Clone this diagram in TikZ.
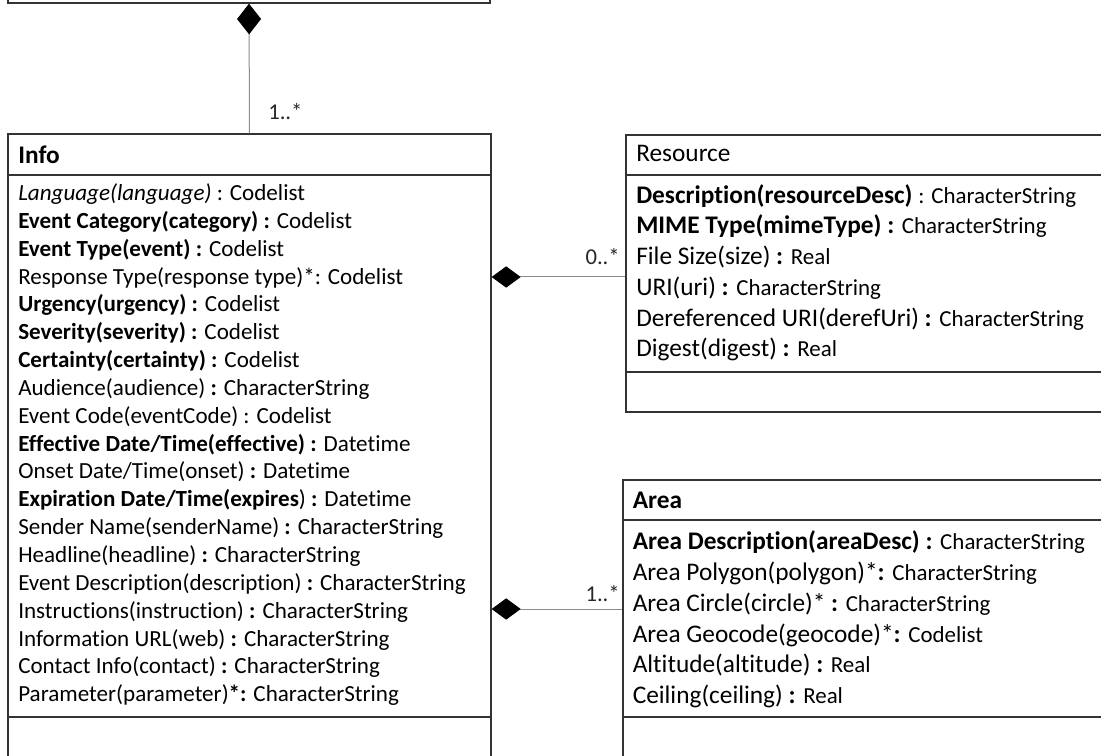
\documentclass[tikz,border=0pt]{standalone}
\usepackage{fontspec}
\setmainfont{Carlito}[Ligatures=NoCommon]
\usetikzlibrary{fit,arrows.meta}
\newcommand\Bf[1]{\textbf{#1}}
\newcommand\Sm[1]{{\fontsize{17.2}{20}\selectfont #1}}
\newcommand\infofont{\fontsize{17.3}{20}\selectfont}
\newcommand\bigfont{\fontsize{19}{23}\selectfont}
\tikzset{
  box/.style={draw=black!80, line width=1pt, inner sep=0pt},
  sep/.style={draw=black!80, line width=1pt},
  conn/.style={draw=black!45, line width=0.75pt},
  compv/.style={{Diamond[length=23pt,width=18pt,color=black,fill=black]}-},
  comph/.style={{Diamond[length=21.75pt,width=16pt,color=black,fill=black]}-},
  attr/.style={anchor=base west, inner sep=0pt, font=\infofont, text=black},
  attrb/.style={anchor=base west, inner sep=0pt, font=\bigfont, text=black},
  mult/.style={inner sep=0pt, font=\fontsize{17}{20}\selectfont, text=black!85},
}
\begin{document}
\begin{tikzpicture}[x=0.75pt,y=-0.75pt]
\useasboundingbox (0,0) rectangle (1101,756);
\clip (0,0) rectangle (1101,756);
% boxes
\node[box, fit={(8,-30) (490,3)}] (alert) {};
\node[box, fit={(8,134) (491,800)}] (info) {};
\node[box, fit={(626,135) (1130,412)}] (res) {};
\node[box, fit={(623,480) (1130,800)}] (area) {};
% compartment separators
\draw[sep] (info.west |- 0,175) -- (info.east |- 0,175);
\draw[sep] (info.west |- 0,717) -- (info.east |- 0,717);
\draw[sep] (res.west |- 0,175) -- (res.east |- 0,175);
\draw[sep] (res.west |- 0,372) -- (res.east |- 0,372);
\draw[sep] (area.west |- 0,520) -- (area.east |- 0,520);
\draw[sep] (area.west |- 0,717) -- (area.east |- 0,717);
% connectors
\draw[conn, compv] (alert.south) -- (info.north);
\coordinate (rc) at (626,277);
\draw[conn, comph] (info.east |- rc) -- (res.west |- rc);
\coordinate (ac) at (623,609);
\draw[conn, comph] (info.east |- ac) -- (area.west |- ac);
\node[mult, anchor=base west] (m1) at (268,120) {1..*};
\node[mult, anchor=base east] (m2) at (620,265) {0..*};
\node[mult, anchor=base east] (m3) at (620,601.7) {1..*};
% Info
\node[attr, font=\fontsize{19}{22}\selectfont] (it) at (18,163.3) {\Bf{Info}};
\node[attr] (i1) at (18,200.5) {\textit{Language(language)} : Codelist};
\node[attr] (i2) at (18,228.35) {\Bf{Event Category(category) :} Codelist};
\node[attr] (i3) at (18,256.2) {\Bf{Event Type(event) :} Codelist};
\node[attr] (i4) at (18,284.05) {Response Type(response type)*: Codelist};
\node[attr] (i5) at (18,311.9) {\Bf{Urgency(urgency) :} Codelist};
\node[attr] (i6) at (18,339.75) {\Bf{Severity(severity) :} Codelist};
\node[attr] (i7) at (18,367.6) {\Bf{Certainty(certainty) :} Codelist};
\node[attr] (i8) at (18,395.45) {Audience(audience) \Bf{:} CharacterString};
\node[attr] (i9) at (18,423.3) {Event Code(eventCode) : Codelist};
\node[attr] (i10) at (18,451.15) {\Bf{Effective Date/Time(effective) :} Datetime};
\node[attr] (i11) at (18,479.0) {Onset Date/Time(onset) \Bf{:} Datetime};
\node[attr] (i12) at (18,506.85) {\Bf{Expiration Date/Time(expires}) \Bf{:} Datetime};
\node[attr] (i13) at (18,534.7) {Sender Name(senderName) \Bf{:} CharacterString};
\node[attr] (i14) at (18,562.55) {Headline(headline) \Bf{:} CharacterString};
\node[attr] (i15) at (18,590.4) {Event Description(description) \Bf{:} CharacterString};
\node[attr] (i16) at (18,618.25) {Instructions(instruction) \Bf{:} CharacterString};
\node[attr] (i17) at (18,646.1) {Information URL(web) \Bf{:} CharacterString};
\node[attr] (i18) at (18,673.95) {Contact Info(contact) \Bf{:} CharacterString};
\node[attr] (i19) at (18,701.8) {Parameter(parameter)\Bf{*:} CharacterString};
% Resource
\node[attrb] (rt) at (636,162) {Resource};
\node[attrb] (r1) at (636,203.3) {\Bf{Description(resourceDesc)} \Sm{: CharacterString}};
\node[attrb] (r2) at (636,234.0) {\Bf{MIME Type(mimeType) :} \Sm{CharacterString}};
\node[attrb] (r3) at (636,264.7) {File Size(size) \Bf{:} \Sm{Real}};
\node[attrb] (r4) at (636,295.4) {URI(uri) \Bf{:} \Sm{CharacterString}};
\node[attrb] (r5) at (636,326.1) {Dereferenced URI(derefUri) \Bf{:} \Sm{CharacterString}};
\node[attrb] (r6) at (636,356.8) {Digest(digest) \Bf{:} \Sm{Real}};
% Area
\node[attrb] (at) at (632.5,508) {\Bf{Area}};
\node[attrb] (a1) at (632.5,549.3) {\Bf{Area Description(areaDesc) :} \Sm{CharacterString}};
\node[attrb] (a2) at (632.5,580.2) {Area Polygon(polygon)*\Bf{:} \Sm{CharacterString}};
\node[attrb] (a3) at (632.5,611.1) {Area Circle(circle)* \Bf{:} \Sm{CharacterString}};
\node[attrb] (a4) at (632.5,642.0) {Area Geocode(geocode)*\Bf{:} \Sm{Codelist}};
\node[attrb] (a5) at (632.5,672.9) {Altitude(altitude) \Bf{:} \Sm{Real}};
\node[attrb] (a6) at (632.5,703.8) {Ceiling(ceiling) \Bf{:} \Sm{Real}};
\end{tikzpicture}
\end{document}
